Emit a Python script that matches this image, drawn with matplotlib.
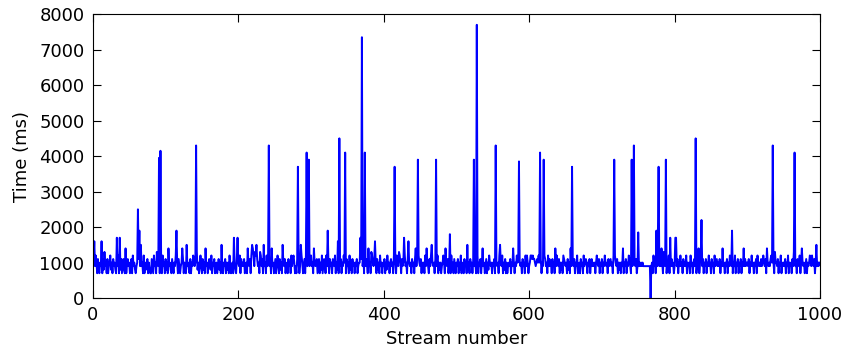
import numpy as np
import matplotlib
matplotlib.use('Agg')
import matplotlib.pyplot as plt

# baseline, one char per stream, value = char (base 36) * 100 ms
# 10 streams per group, 50 per row
baseline_rows = [
    "ebg9ca7b87 a9g7b8d9a7 b79ac8a7b9 a87h9c7a8b 79b87e7ab9",
    "a78b7c9a87 9a7bd9f9a7 c7a89b7a87 7b97c9a7db 9b7a87c9a7",
    "b8a7e9a87b 97a9c9a7b9 79aeb7a87f 9a87b7a9cb 9a7d8a79c9",
    "7b8a7e9a79 ba8c7a9b79 a79b8a7f97 a9b7a8a7c9 79a7ha87b9",
    "a9c7b9a9b7 9a7ea9b7cf ec9dcfb9a7 dc9b7f9a7c 9ca9b7e9a7",
    "9b79ca7b8a 7fa9b79a7b 9a7c9bca79 7b9a79fca7 9b7ca9b79a",
    "c9a7ea9ab7 9b7a8c79ba 7c9fa7b9a7 ba9c7a8g7a 9b7a9ca97b",
    "9a7c8a7b9a 7a9b79aacb a9c7a9ba7e 9a7dca9bga 7b8a7c9a7a",
    "9b7a8c9a7a b9a7c9a7ca 9dca7b9a7c 9a7bga9a7b 9a7be9c7ca",
    "9b7a8a7c9e a97b9cfa9a 7ba9c7a8a7 9aca7ea9b7 9a7c8a7b97",
    "a9b7a8c7a9 7b9a7f8a7b 9a7ab9a79c 7a9b7ae9a7 9b7a8ca9a7",
    "a9b7ca9a7c fa9c7a8b7a 79a9b7a9ea 7a9cabfa9a 7b9a7c9ca7",
    "9accbcbba9 abaca9b7a9 acb9a7c9b9 a7b9a7e9ca 9b7a8a7cba",
    "9a7b8a7e9a a9b7a9c79a 7b9a7c9aba 7a9b7ab9a9 a7aca9b7a9",
    "b7a9ca9a7b 9ab9a7c9ca 9b7a8a7a9e 7a9b7a9cb9 7a9aca9b79",
    "h9a9a9a999 999999999a 7c9b7a9ha9 b9ea7dc9a7 a9c7h9b9a7",
    "9ha9b7a9c9 a7b9a9c7a9 a7c9a7ab9b 7a9e7aca9b 7a9b7a9c9a",
    "7b9a7c9ab9 a9b7a9e9a7 a9b7a9ca9b 7a9c7a9b7a 9b7a9e9b9a",
    "a9b7a9c9a7 a9b7ca9a9b 9aca9b7ea9 a9bca9a7da a9b7a9c7a9",
    "a9b7a9c7a9 a7b9da9a7b a9c7aea9a7 9b7a9aca9c a9b7af9a9a",
]

# tall peaks (stream index: time in ms)
spikes = {
    37: 1700, 62: 2500, 64: 1900, 91: 3950, 93: 4150, 115: 1900,
    142: 4300, 199: 1700, 242: 4300, 282: 3700, 294: 4100, 297: 3900,
    323: 1900, 339: 4500, 347: 4100, 368: 1700, 370: 7350, 374: 4100,
    415: 3700, 428: 1700, 447: 3900, 472: 3900, 491: 1800, 524: 3900,
    528: 7700, 554: 4300, 586: 3850, 615: 4100, 620: 3900, 659: 3700,
    717: 3900, 741: 3900, 744: 4300, 750: 1850, 767: 0, 775: 1900,
    778: 3700, 788: 3900, 802: 1700, 829: 4500, 837: 2200, 879: 1900,
    935: 4300, 965: 4100,
}

chars = "".join(baseline_rows).replace(" ", "")
times = [int(c, 36) * 100 for c in chars]
for i, v in spikes.items():
    if i < len(times):
        times[i] = v
streams = np.arange(len(times))

fig = plt.figure(figsize=(8.44, 3.54), dpi=100)
ax = fig.add_axes([0.110, 0.158, 0.8616, 0.802])
ax.plot(streams, times, color='b', linewidth=1.4)

ax.set_xlim(0, 1000)
ax.set_ylim(0, 8000)
ax.set_xticks(range(0, 1001, 200))
ax.set_yticks(range(0, 8001, 1000))
ax.tick_params(direction='in', top=True, right=True, length=6, labelsize=13, pad=6)
for s in ax.spines.values():
    s.set_color('black')
ax.set_xlabel("Stream number", fontsize=13)
ax.set_ylabel("Time (ms)", fontsize=13, labelpad=6)

fig.savefig("out.png", dpi=100)
